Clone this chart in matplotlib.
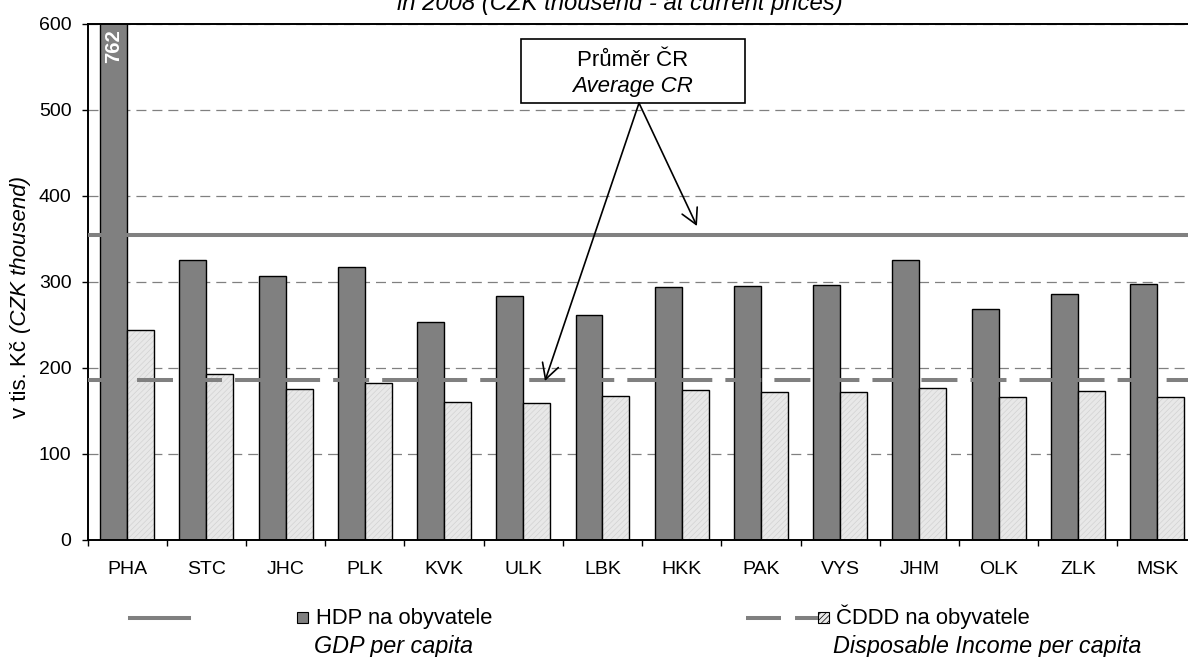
"""GDP and disposable income per capita by region, 2008 (CZK thousand).

Grouped bars per region with the two Czech-Republic averages drawn as
horizontal lines, Excel-like legend below the plot area.
"""

import matplotlib

matplotlib.use("Agg")
import matplotlib.pyplot as plt
import numpy as np
from matplotlib.lines import Line2D
from matplotlib.patches import Rectangle

plt.rcParams["font.family"] = ["Liberation Sans", "DejaVu Sans"]
plt.rcParams["lines.scale_dashes"] = False
plt.rcParams["hatch.linewidth"] = 0.5

W, H = 1188, 657

REGIONS = ["PHA", "STC", "JHC", "PLK", "KVK", "ULK", "LBK",
           "HKK", "PAK", "VYS", "JHM", "OLK", "ZLK", "MSK"]
GDP = [762, 325, 307, 317, 254, 284, 262, 294, 295, 296, 326, 269, 286, 298]
DISP_INCOME = [244, 193, 176, 182, 160, 159, 167, 175, 172, 172, 177, 166, 173, 166]
GDP_AVG = 355
DISP_AVG = 186
Y_TICKS = [0, 100, 200, 300, 400, 500, 600]

DARK = "#808080"
LIGHT = "#e8e8e8"


def fx(px):
    """Pixel x -> figure fraction."""
    return px / W


def fy(py):
    """Pixel y (from top) -> figure fraction."""
    return 1 - py / H


def main():
    fig = plt.figure(figsize=(W / 100, H / 100), dpi=100)
    left, right, top, bottom = 87.5, 1196.7, 24, 540
    ax = fig.add_axes([fx(left), fy(bottom), fx(right - left), (bottom - top) / H])

    x = np.arange(len(REGIONS))
    w = 0.34
    ax.bar(x - w / 2, GDP, w, color=DARK, edgecolor="black", lw=1.0, zorder=2)
    # light bars: fine hatch layer first, then a plain black outline on top
    ax.bar(x + w / 2, DISP_INCOME, w, facecolor=LIGHT, edgecolor="#d2d2d2",
           hatch="//////", lw=0, zorder=2)
    ax.bar(x + w / 2, DISP_INCOME, w, fill=False, edgecolor="black", lw=1.0, zorder=2.1)

    ax.axhline(GDP_AVG, color=DARK, lw=2.9, zorder=3)
    ax.axhline(DISP_AVG, color=DARK, lw=2.9, ls=(0, (25.9, 9.4)), zorder=3)

    ax.text(x[0] - w / 2, 594, str(GDP[0]), rotation=90, ha="center", va="top",
            color="white", fontweight="bold", fontsize=14.5, zorder=4)

    ax.set_xlim(-0.5, len(REGIONS) - 0.5)
    ax.set_ylim(0, 600)
    ax.set_yticks(Y_TICKS)
    ax.set_xticks(x)
    ax.set_xticklabels(REGIONS, fontsize=14)
    ax.set_xticks(np.arange(len(REGIONS) + 1) - 0.5, minor=True)
    ax.tick_params(axis="x", which="major", length=0, pad=15)
    ax.tick_params(axis="x", which="minor", length=4.3, width=1.0, direction="out")
    ax.tick_params(axis="y", length=4.5, width=1.0, direction="out", pad=7, labelsize=14)

    ax.set_axisbelow(True)
    ax.yaxis.grid(True, color=DARK, lw=0.9, ls=(0, (7.2, 4.3)))
    for side in ("left", "bottom", "top"):
        ax.spines[side].set_linewidth(1.4)
    ax.spines["right"].set_visible(False)

    # callout box + arrows
    ax.add_patch(Rectangle((4.968, 508.1), 7.799 - 4.968, 582.6 - 508.1,
                           facecolor="white", edgecolor="black", lw=1.2,
                           zorder=5, clip_on=False))
    ax.text(6.38, 551.2, "Průměr ČR", ha="center", va="baseline", fontsize=16, zorder=6)
    ax.text(6.38, 521.3, "Average CR", ha="center", va="baseline", fontsize=16,
            style="italic", zorder=6)
    arrow = dict(arrowstyle="->,head_length=0.55,head_width=0.3", color="black",
                 lw=1.2, shrinkA=0, shrinkB=0, mutation_scale=20)
    ax.annotate("", xy=(7.192, 365.1), xytext=(6.461, 508.1), arrowprops=arrow, zorder=5)
    ax.annotate("", xy=(5.274, 184.9), xytext=(6.461, 508.1), arrowprops=arrow, zorder=5)

    # y label, roman + italic part
    t1 = fig.text(fx(20.7), fy(418), "v tis. Kč", rotation=90, ha="center",
                  va="bottom", fontsize=16)
    fig.add_artist(plt.Annotation("(CZK thousend)", xy=(0.5, 1.0), xycoords=t1,
                                  xytext=(0, 5), textcoords="offset points",
                                  rotation=90, ha="center", va="bottom",
                                  fontsize=16, style="italic"))

    fig.text(fx(620), fy(10), "in 2008 (CZK thousend - at current prices)",
             ha="center", va="baseline", fontsize=17.2, style="italic")

    # legend, drawn Excel-style
    fig.add_artist(Line2D([fx(130), fx(189)], [fy(617.5)] * 2, color=DARK, lw=2.9,
                          transform=fig.transFigure))
    fig.add_artist(Rectangle((fx(297), fy(623)), 11 / W, 11 / H, facecolor=DARK,
                             edgecolor="black", lw=0.8, transform=fig.transFigure))
    fig.text(fx(316), fy(624), "HDP na obyvatele", ha="left", va="baseline", fontsize=15.8)
    fig.text(fx(394), fy(653), "GDP per capita", ha="center", va="baseline",
             fontsize=16.8, style="italic")

    fig.add_artist(Line2D([fx(745.5), fx(817.5)], [fy(617.5)] * 2, color=DARK, lw=2.9,
                          ls=(0, (25.2, 10.1)), transform=fig.transFigure))
    fig.add_artist(Rectangle((fx(817.5), fy(623)), 11 / W, 11 / H, facecolor=LIGHT,
                             edgecolor="black", lw=0.8, hatch="//////",
                             transform=fig.transFigure))
    fig.text(fx(835.5), fy(624), "ČDDD na obyvatele", ha="left", va="baseline",
             fontsize=15.8)
    fig.text(fx(987.5), fy(653), "Disposable Income per capita", ha="center",
             va="baseline", fontsize=16.8, style="italic")

    fig.savefig("out.png", dpi=100)


if __name__ == "__main__":
    main()
